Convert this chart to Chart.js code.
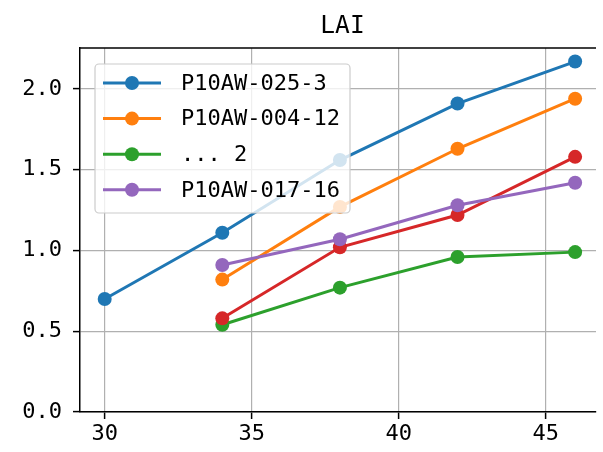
<!DOCTYPE html>
<html>
<head>
<meta charset="utf-8">
<script src="https://cdn.jsdelivr.net/npm/chart.js@4"></script>
<style>
  html, body { margin: 0; padding: 0; background: #fff; }
  #wrap { width: 603px; height: 452px; }
</style>
</head>
<body>
<div id="wrap"><canvas id="lai-chart" width="603" height="452"></canvas></div>
<script>
// data
const days = [30, 34, 38, 42, 46];
const names = ["P10AW-025-3", "P10AW-004-12", "... 2", "_red", "P10AW-017-16"];
const colors = ['#1f77b4', '#ff7f0e', '#2ca02c', '#d62728', '#9467bd'];
const lai025 = [0.70, 1.11, 1.56, 1.91, 2.17];
const lai004 = [null, 0.82, 1.27, 1.63, 1.94];
const laiDots = [null, 0.54, 0.77, 0.96, 0.99];
const laiRed = [null, 0.58, 1.02, 1.22, 1.58];
const lai017 = [null, 0.91, 1.07, 1.28, 1.42];
const xTicks = [30, 35, 40, 45];
const yTicks = [0, 0.5, 1.0, 1.5, 2.0];

const series = [lai025, lai004, laiDots, laiRed, lai017];
const fontFam = '"DejaVu Sans Mono", "Liberation Mono", monospace';

const datasets = series.map((vals, i) => ({
    label: names[i],
    data: days.map((d, j) => ({ x: d, y: vals[j] })).filter(p => p.y !== null),
    borderColor: colors[i],
    backgroundColor: colors[i],
    borderWidth: 3,
    pointRadius: 7,
    pointBorderWidth: 0,
    order: series.length - i,
    inLegend: names[i][0] !== '_'
}));

// title, top spine and in-axes legend (matplotlib look)
const framePlugin = {
    id: 'frame',
    afterDatasetsDraw(chart) {
        const ctx = chart.ctx;
        const a = chart.chartArea;
        ctx.save();
        ctx.strokeStyle = '#000';
        ctx.lineWidth = 1.5;
        ctx.beginPath();
        ctx.moveTo(a.left, a.top);
        ctx.lineTo(a.right, a.top);
        ctx.stroke();

        ctx.fillStyle = '#000';
        ctx.font = '24.5px ' + fontFam;
        ctx.textAlign = 'center';
        ctx.textBaseline = 'alphabetic';
        ctx.fillText('LAI', (a.left + 605) / 2, 33);

        // legend box
        const shown = chart.data.datasets.filter(d => d.inLegend);
        const bx = 95, by = 64, bw = 255, bh = 149;
        ctx.globalAlpha = 0.8;
        ctx.fillStyle = '#fff';
        ctx.beginPath();
        ctx.roundRect(bx, by, bw, bh, 4);
        ctx.fill();
        ctx.globalAlpha = 1;
        ctx.strokeStyle = '#cccccc';
        ctx.lineWidth = 1.2;
        ctx.stroke();

        ctx.font = '22px ' + fontFam;
        ctx.textAlign = 'left';
        ctx.textBaseline = 'middle';
        shown.forEach((d, k) => {
            const y = 83 + k * 35.6;
            ctx.strokeStyle = d.borderColor;
            ctx.lineWidth = 3;
            ctx.beginPath();
            ctx.moveTo(103, y);
            ctx.lineTo(161, y);
            ctx.stroke();
            ctx.fillStyle = d.borderColor;
            ctx.beginPath();
            ctx.arc(132, y, 7, 0, Math.PI * 2);
            ctx.fill();
            ctx.fillStyle = '#000';
            ctx.fillText(d.label, 181, y + 1);
        });
        ctx.restore();
    }
};

const laiChart = new Chart(document.getElementById('lai-chart'), {
    type: 'line',
    data: { datasets: datasets },
    options: {
        responsive: false,
        animation: false,
        layout: { padding: { top: 48, right: 0, left: 0, bottom: 0 } },
        plugins: {
            legend: { display: false },
            title: { display: false },
            tooltip: { enabled: false }
        },
        scales: {
            x: {
                type: 'linear',
                min: 29.16,
                max: 46.71,
                afterBuildTicks: s => { s.ticks = xTicks.map(v => ({ value: v })); },
                afterFit: s => { s.height = 40; },
                grid: { color: '#b0b0b0', lineWidth: 1.2, tickLength: 7, tickColor: '#000', tickWidth: 1.5 },
                border: { display: true, color: '#000', width: 1.5 },
                ticks: { color: '#000', font: { family: fontFam, size: 22 }, padding: 2, maxRotation: 0 }
            },
            y: {
                min: 0,
                max: 2.254,
                afterBuildTicks: s => { s.ticks = yTicks.map(v => ({ value: v })); },
                afterFit: s => { s.width = 80; },
                grid: { color: '#b0b0b0', lineWidth: 1.2, tickLength: 7, tickColor: '#000', tickWidth: 1.5 },
                border: { display: true, color: '#000', width: 1.5 },
                ticks: {
                    color: '#000',
                    font: { family: fontFam, size: 22 },
                    padding: 11,
                    callback: v => v.toFixed(1)
                }
            }
        }
    },
    plugins: [framePlugin]
});
</script>
</body>
</html>
